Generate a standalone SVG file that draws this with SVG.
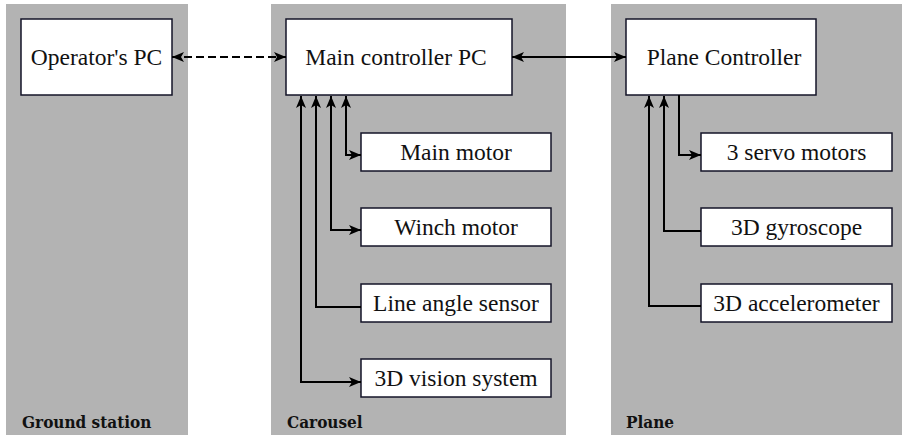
<svg xmlns="http://www.w3.org/2000/svg" width="902" height="435" viewBox="0 0 902 435">
  <defs>
    <marker id="arr" viewBox="0 0 12 10" refX="12" refY="5" markerWidth="12" markerHeight="10" markerUnits="userSpaceOnUse" orient="auto-start-reverse">
      <path d="M0,0 L12,5 L0,10 L3,5 Z" fill="#000"/>
    </marker>
  </defs>
  <style>
    .panel { fill: #b3b3b3; }
    .box { fill: #fff; stroke: #141428; stroke-width: 1.5; }
    .txt { font-family: "Liberation Serif", "Times New Roman", serif; font-size: 23.5px; fill: #111; text-anchor: middle; }
    .lbl { font-family: "DejaVu Serif Condensed", "DejaVu Serif", serif; font-stretch: condensed; font-size: 17px; font-weight: bold; fill: #111; }
    .wire { fill: none; stroke: #000; stroke-width: 2; }
    .dash { stroke-dasharray: 8 4; }
  </style>

  <!-- subsystem panels -->
  <g id="panels">
    <rect class="panel" x="6" y="4" width="182" height="431"/>
    <rect class="panel" x="271" y="4" width="295" height="431"/>
    <rect class="panel" x="611" y="4" width="291" height="431"/>
    <text class="lbl" x="22" y="428">Ground station</text>
    <text class="lbl" x="287" y="428">Carousel</text>
    <text class="lbl" x="626" y="428">Plane</text>
  </g>

  <g id="operator-pc">
    <rect class="box" x="21" y="19" width="151" height="76"/>
    <text class="txt" x="96.5" y="65">Operator's PC</text>
  </g>
  <g id="main-controller-pc">
    <rect class="box" x="286" y="19" width="226" height="76"/>
    <text class="txt" x="396" y="65">Main controller PC</text>
  </g>
  <g id="plane-controller">
    <rect class="box" x="626" y="19" width="190" height="76"/>
    <text class="txt" x="724" y="65">Plane Controller</text>
  </g>

  <g id="main-motor">
    <rect class="box" x="361" y="133" width="190" height="38"/>
    <text class="txt" x="456" y="160">Main motor</text>
  </g>
  <g id="winch-motor">
    <rect class="box" x="361" y="208" width="190" height="38"/>
    <text class="txt" x="456" y="235">Winch motor</text>
  </g>
  <g id="line-angle-sensor">
    <rect class="box" x="361" y="284" width="190" height="38"/>
    <text class="txt" x="456" y="311">Line angle sensor</text>
  </g>
  <g id="vision-system">
    <rect class="box" x="361" y="359" width="190" height="38"/>
    <text class="txt" x="456" y="386">3D vision system</text>
  </g>

  <g id="servo-motors">
    <rect class="box" x="701" y="133" width="191" height="38"/>
    <text class="txt" x="796.5" y="160">3 servo motors</text>
  </g>
  <g id="gyroscope">
    <rect class="box" x="701" y="208" width="191" height="38"/>
    <text class="txt" x="796.5" y="235">3D gyroscope</text>
  </g>
  <g id="accelerometer">
    <rect class="box" x="701" y="284" width="191" height="38"/>
    <text class="txt" x="796.5" y="311">3D accelerometer</text>
  </g>

  <g id="connectors">
    <line class="wire dash" x1="172" y1="57" x2="286" y2="57" marker-start="url(#arr)" marker-end="url(#arr)"/>
    <line class="wire" x1="512" y1="57" x2="626" y2="57" marker-start="url(#arr)" marker-end="url(#arr)"/>

    <polyline class="wire" points="346,96 346,155 361,155" marker-start="url(#arr)" marker-end="url(#arr)"/>
    <polyline class="wire" points="331,96 331,230 361,230" marker-start="url(#arr)" marker-end="url(#arr)"/>
    <polyline class="wire" points="316,96 316,307 361,307" marker-start="url(#arr)"/>
    <polyline class="wire" points="301,96 301,382 361,382" marker-start="url(#arr)" marker-end="url(#arr)"/>

    <polyline class="wire" points="679,95 679,155 701,155" marker-end="url(#arr)"/>
    <polyline class="wire" points="664,96 664,231 701,231" marker-start="url(#arr)"/>
    <polyline class="wire" points="649,96 649,306 701,306" marker-start="url(#arr)"/>
  </g>
</svg>
